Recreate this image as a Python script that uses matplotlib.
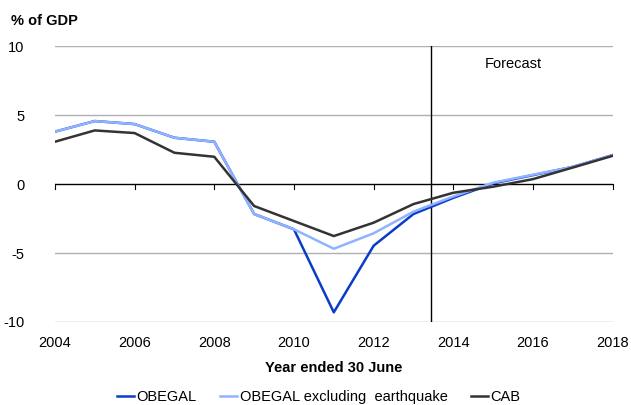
import matplotlib
matplotlib.use("Agg")
import matplotlib.pyplot as plt

plt.rcParams['font.family'] = ['Liberation Sans', 'DejaVu Sans']
plt.rcParams['axes.unicode_minus'] = False

years = list(range(2004, 2019))
obegal = [3.8, 4.57, 4.35, 3.36, 3.07, -2.17, -3.28, -9.3, -4.47, -2.17, -1.0, 0.05, 0.65, 1.25, 2.1]
obegal_ex = [3.8, 4.57, 4.35, 3.36, 3.07, -2.17, -3.28, -4.69, -3.57, -2.0, -0.9, 0.1, 0.68, 1.25, 2.1]
cab = [3.07, 3.89, 3.7, 2.27, 1.98, -1.59, -2.68, -3.77, -2.8, -1.45, -0.63, -0.19, 0.36, 1.2, 2.05]
xticks = [2004, 2006, 2008, 2010, 2012, 2014, 2016, 2018]
yticks = [-10, -5, 0, 5, 10]
forecast_start = 2013.45

fig = plt.figure(figsize=(6.31, 4.05), dpi=100)
ax = fig.add_axes([0.087, 0.205, 0.884, 0.681])

for y in [-10, -5, 5, 10]:
    ax.axhline(y, color='#b0b0b0', lw=1.0, zorder=1)
ax.axhline(0, color='black', lw=1.0, zorder=2)
ax.axvline(forecast_start, color='black', lw=1.0, zorder=2)

ax.plot(years, obegal, color='#0a3cc8', lw=1.8, label='OBEGAL', zorder=3)
ax.plot(years, obegal_ex, color='#8fb3ff', lw=1.8, label='OBEGAL excluding  earthquake', zorder=4)
ax.plot(years, cab, color='#333333', lw=1.8, label='CAB', zorder=5)

ax.set_xlim(2004, 2018)
ax.set_ylim(-10, 10)
for s in ax.spines.values():
    s.set_visible(False)
ax.set_yticks(yticks)
ax.set_xticks(xticks)
ax.tick_params(axis='y', length=0, labelsize=10.5, pad=22)
ax.tick_params(axis='x', length=0, labelsize=10.5, pad=10)
# tick marks on zero line
for x in xticks:
    ax.plot([x, x], [0, -0.35], color='black', lw=0.8, zorder=2, clip_on=False)

ax.text(2015.5, 8.7, 'Forecast', ha='center', va='center', fontsize=10.5)
fig.text(0.018, 0.948, '% of GDP', fontsize=10.5, fontweight='bold', ha='left', va='center')
ax.set_xlabel('Year ended 30 June', fontsize=10.5, fontweight='bold', labelpad=8)

leg = fig.legend(loc='lower center', bbox_to_anchor=(0.505, -0.03), ncol=3, frameon=False,
                 fontsize=10.5, handlelength=1.2, handletextpad=0.15, columnspacing=1.6)

fig.savefig('out.png', dpi=100)
